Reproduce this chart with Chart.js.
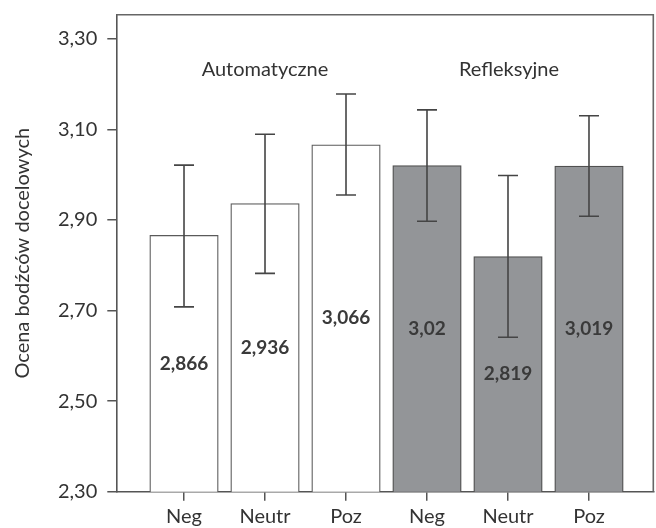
<!DOCTYPE html>
<html><head><meta charset="utf-8">
<script src="https://cdn.jsdelivr.net/npm/chart.js@4"></script>
<style>html,body{margin:0;padding:0;background:#fff}#wrap{width:656px;height:528px}</style>
</head><body><div id="wrap"><canvas id="c" width="656" height="528"></canvas></div>
<script>
const categories = ['Neg','Neutr','Poz','Neg','Neutr','Poz'];
const groups = ['Automatyczne','Refleksyjne'];
const means = [2.866, 2.936, 3.066, 3.02, 2.819, 3.019];
const valueLabels = ['2,866','2,936','3,066','3,02','2,819','3,019'];
const errUpper = [0.155, 0.153, 0.112, 0.123, 0.179, 0.111];
const errLower = [0.158, 0.154, 0.111, 0.123, 0.178, 0.111];
const yTicks = [2.30, 2.50, 2.70, 2.90, 3.10, 3.30];
const yMin = 2.30, yMax = 3.353;

const FONT = 'Lato, "Open Sans", sans-serif';
const fills = means.map((v,i)=> i<3 ? '#ffffff' : '#939598');
const borders = means.map((v,i)=> i<3 ? '#5a5a5a' : '#505050');

const extras = {
  id:'extras',
  afterDatasetsDraw(chart){
    const ctx = chart.ctx, ys = chart.scales.y, ca = chart.chartArea;
    const meta = chart.getDatasetMeta(0);
    ctx.save();
    ctx.strokeStyle = '#666666'; ctx.lineWidth = 1.6;
    ctx.beginPath();
    ctx.moveTo(ca.left, ca.top); ctx.lineTo(ca.right, ca.top); ctx.lineTo(ca.right, ca.bottom);
    ctx.stroke();
    ctx.strokeStyle = '#454545'; ctx.lineWidth = 1.6;
    meta.data.forEach((bar,i)=>{
      const x = bar.x;
      const yt = ys.getPixelForValue(means[i]+errUpper[i]);
      const yb = ys.getPixelForValue(means[i]-errLower[i]);
      ctx.beginPath();
      ctx.moveTo(x, yt); ctx.lineTo(x, yb);
      ctx.moveTo(x-10, yt); ctx.lineTo(x+10, yt);
      ctx.moveTo(x-10, yb); ctx.lineTo(x+10, yb);
      ctx.stroke();
    });
    ctx.fillStyle = '#3a3a3a';
    ctx.font = 'bold 19px ' + FONT;
    ctx.textAlign = 'center'; ctx.textBaseline = 'middle';
    meta.data.forEach((bar,i)=>{
      const yc = ys.getPixelForValue((means[i] + yMin)/2);
      ctx.fillText(valueLabels[i], bar.x, yc);
    });
    ctx.fillStyle = '#333333';
    ctx.font = '20px ' + FONT;
    ctx.fillText(groups[0], 265, 70);
    ctx.fillText(groups[1], 509, 70);
    ctx.restore();
  }
};

new Chart(document.getElementById('c'), {
  type:'bar',
  data:{
    datasets:[{
      data: means.map((v,i)=>({x:i, y:v})),
      backgroundColor: fills,
      borderColor: borders,
      borderWidth: 1.3,
      barThickness: 68.5
    }]
  },
  options:{
    responsive:false,
    animation:false,
    layout:{padding:{top:14.7, right:2.7, left:0, bottom:0}},
    plugins:{legend:{display:false}, tooltip:{enabled:false}},
    scales:{
      x:{
        type:'linear', min:-0.836, max:5.794, offset:false,
        afterBuildTicks(s){ s.ticks = categories.map((c,i)=>({value:i})); },
        afterFit(s){ s.height = 36.3; s.paddingLeft = 0; s.paddingRight = 0; s.paddingTop = 0; s.paddingBottom = 0; },
        ticks:{ autoSkip:false, maxRotation:0, color:'#333', font:{family:FONT, size:20}, padding:4,
          callback:(v)=>categories[v] },
        grid:{ offset:false, drawOnChartArea:false, drawTicks:true, tickLength:9, color:'#555', lineWidth:1.5 },
        border:{ display:true, color:'#555', width:1.6 }
      },
      y:{
        min:yMin, max:yMax,
        afterBuildTicks(s){ s.ticks = yTicks.map(v=>({value:v})); },
        afterFit(s){ s.width = 116.3; s.paddingTop = 0; s.paddingBottom = 0; s.paddingLeft = 0; s.paddingRight = 0; },
        ticks:{ color:'#333', font:{family:FONT, size:20}, padding:10,
          callback:(v)=>Number(v).toFixed(2).replace('.',',') },
        grid:{ drawOnChartArea:false, drawTicks:true, tickLength:9, color:'#555', lineWidth:1.5 },
        border:{ display:true, color:'#555', width:1.6 },
        title:{ display:true, text:'Ocena bodźców docelowych', color:'#333', font:{family:FONT, size:20}, padding:{top:11,bottom:0} }
      }
    }
  },
  plugins:[extras]
});
</script></body></html>
